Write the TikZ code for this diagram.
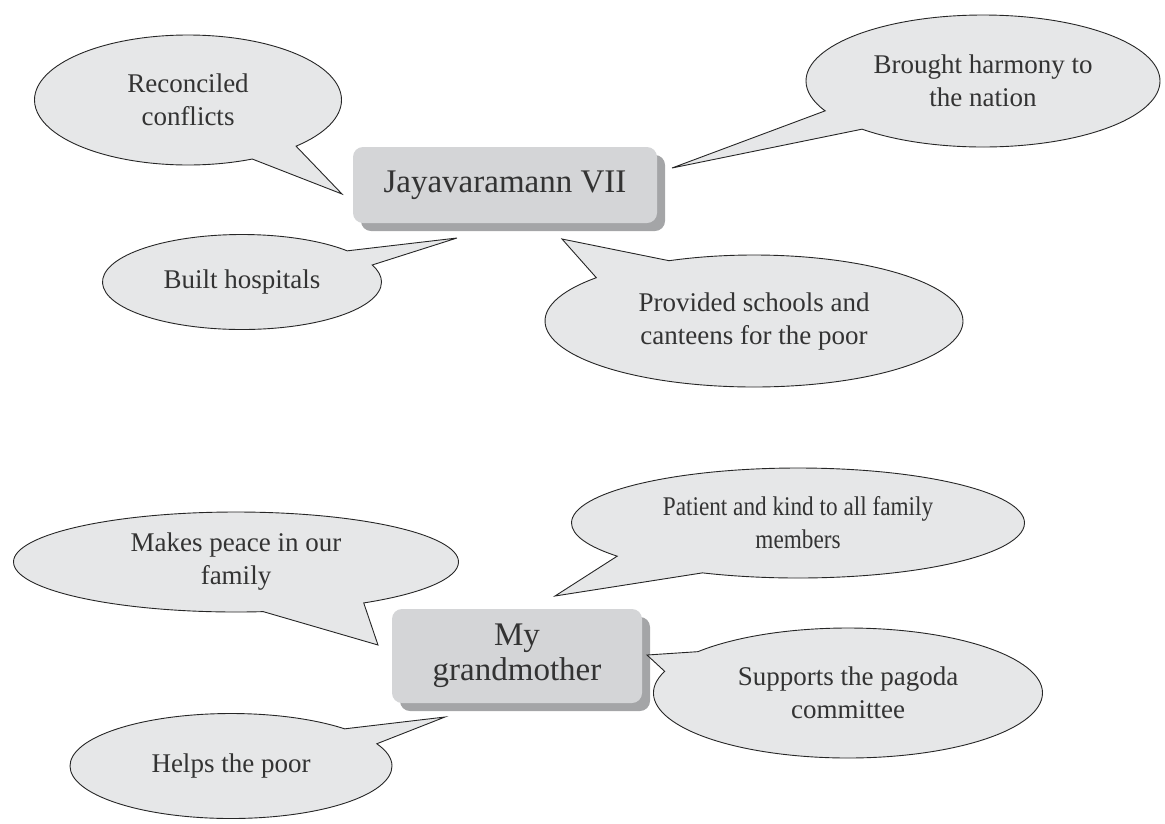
\documentclass[tikz,border=0pt]{standalone}
\usepackage{fontspec}
\setmainfont{Liberation Serif}
\usetikzlibrary{shapes.callouts,shadows}
\definecolor{bubblegray}{HTML}{E6E7E8}
\definecolor{boxgray}{HTML}{D4D5D7}
\definecolor{shadowgray}{HTML}{A4A5A7}
\definecolor{inkgray}{HTML}{333333}
\begin{document}
\begin{tikzpicture}[x=1pt, y=-1pt,
  bubble/.style={ellipse callout, draw=black!85, line width=0.9pt, fill=bubblegray,
    text=inkgray, align=center, inner sep=0pt, font=\fontsize{27}{33}\selectfont,
    callout pointer arc=20},
  keybox/.style={rounded corners=10pt, fill=boxgray, text=inkgray, align=center,
    inner sep=0pt, font=\fontsize{33}{35}\selectfont,
    drop shadow={shadow xshift=8pt, shadow yshift=-8pt, fill=shadowgray, opacity=1}}]
\useasboundingbox (0,0) rectangle (1165,823);
% top map
\node[keybox, minimum width=304pt, minimum height=76pt] (J) at (505,185) {Jayavaramann VII};
\node[bubble, minimum width=307pt, minimum height=130pt, callout absolute pointer={(342,194)}] (1) at (188,100) {Reconciled\\conflicts};
\node[bubble, minimum width=354pt, minimum height=132pt, callout absolute pointer={(672,168)}] (2) at (983,81) {Brought harmony to\\the nation};
\node[bubble, minimum width=279pt, minimum height=95pt, callout absolute pointer={(457,238)}] (3) at (242,282) {Built hospitals};
\node[bubble, minimum width=418pt, minimum height=132pt, callout pointer arc=25, callout absolute pointer={(562,239)}] (4) at (754,321) {Provided schools and\\canteens for the poor};
% bottom map
\node[keybox, minimum width=250pt, minimum height=94pt] (G) at (517,656) {My\\grandmother};
\node[bubble, minimum width=445pt, minimum height=100pt, callout pointer arc=28, callout absolute pointer={(378,645)}] (5) at (236,562) {Makes peace in our\\family};
\node[bubble, minimum width=453pt, minimum height=110pt, callout pointer arc=28, callout absolute pointer={(555,596)}] (6) at (798,523) {\scalebox{0.86}[1]{Patient and kind to all family}\\\scalebox{0.86}[1]{members}};
\node[bubble, minimum width=389pt, minimum height=130pt, callout absolute pointer={(647,655)}] (7) at (848,693) {Supports the pagoda\\committee};
\node[bubble, minimum width=322pt, minimum height=105pt, callout absolute pointer={(445,717)}] (8) at (231,766) {Helps the poor};
\end{tikzpicture}
\end{document}
